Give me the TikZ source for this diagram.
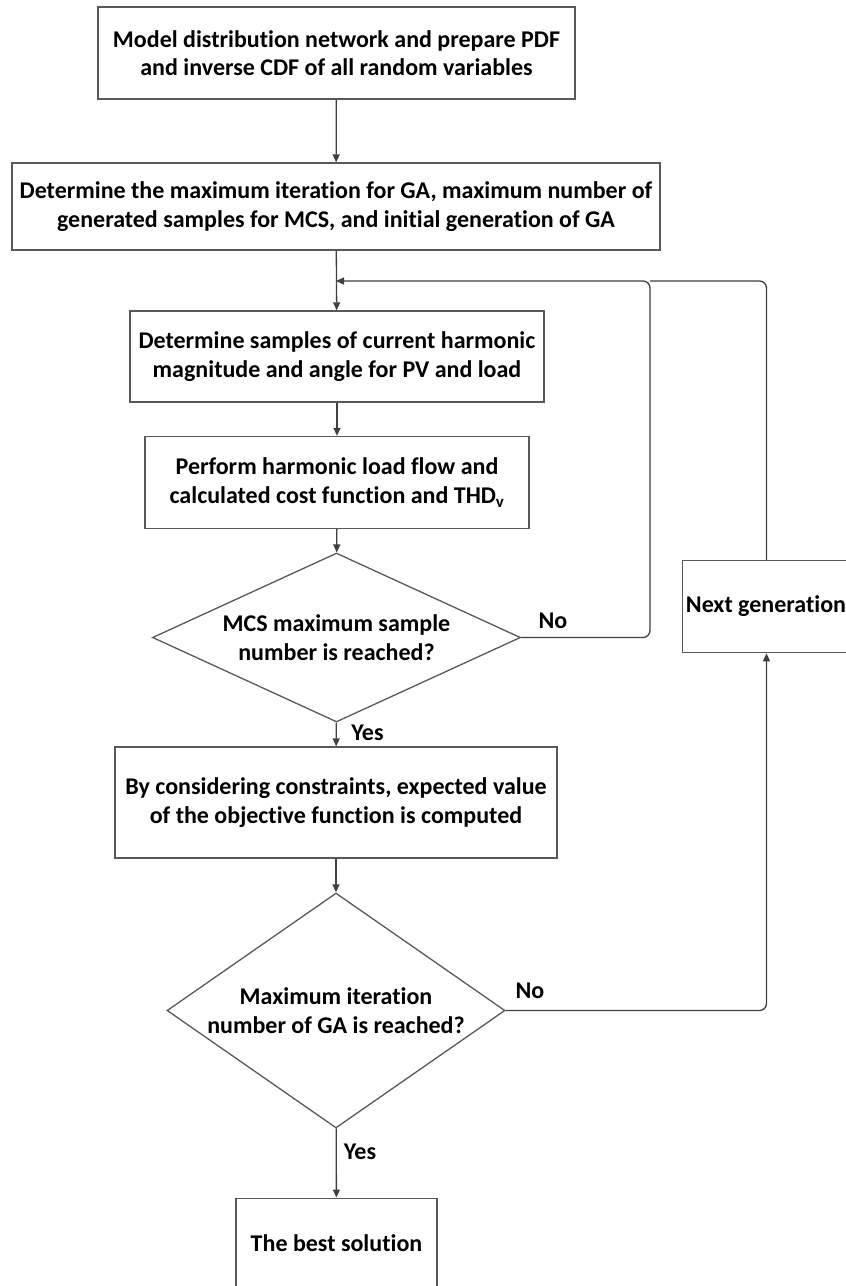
\documentclass[tikz,border=0pt]{standalone}
\usepackage{fontspec}
\setmainfont{Carlito}[Ligatures=NoCommon]
\usetikzlibrary{shapes.geometric,arrows.meta}
\begin{document}
\begin{tikzpicture}[x=1pt,y=-1pt,
  every node/.style={font=\fontsize{24}{28.5}\selectfont\bfseries, text=black},
  procbox/.style={draw=black!65, line width=1.3pt, rectangle, align=center, inner sep=0pt},
  decision/.style={draw=black!65, line width=1.3pt, diamond, inner sep=0pt},
  flow/.style={draw=black!75, line width=1.3pt, -{Triangle[length=8pt,width=7pt]}},
  plainline/.style={draw=black!75, line width=1.3pt},
  lbl/.style={inner sep=0pt, align=center}]
\useasboundingbox (0,0) rectangle (846,1286);
\fill[white] (0,0) rectangle (846,1286);

\node[procbox, minimum width=477pt, minimum height=92pt] (b1) at (336.5,53)
  {Model distribution network and prepare PDF\\and inverse CDF of all random variables};
\node[procbox, minimum width=648pt, minimum height=87pt] (b2) at (336,206.5)
  {Determine the maximum iteration for GA, maximum number of\\generated samples for MCS, and initial generation of GA};
\node[procbox, minimum width=414pt, minimum height=91pt] (b3) at (337,356.5)
  {Determine samples of current harmonic\\magnitude and angle for PV and load};
\node[procbox, minimum width=384pt, minimum height=92pt] (b4) at (337,482.5)
  {Perform harmonic load flow and\\calculated cost function and THD\textsubscript{v}};
\node[decision, minimum width=368pt, minimum height=169pt] (d1) at (336.5,637.5) {};
\node[lbl] (d1t) at (336.5,637.5) {MCS maximum sample\\number is reached?};
\node[procbox, minimum width=442pt, minimum height=111pt] (b5) at (336,802.5)
  {By considering constraints, expected value\\of the objective function is computed};
\node[decision, minimum width=338pt, minimum height=235pt] (d2) at (336,1010.5) {};
\node[lbl] (d2t) at (336,1010.5) {Maximum iteration\\number of GA is reached?};
\node[procbox, minimum width=201pt, minimum height=96pt, anchor=north] (b6) at (336.5,1197.5) {};
\node[lbl] (b6t) at (336.5,1243) {The best solution};
\node[procbox, minimum width=172pt, minimum height=92pt, anchor=north west] (ng) at (682,560) {};
\node[lbl] (ngt) at (766,606) {Next generation};

\coordinate (merge) at (336,281);
\coordinate (loopR) at (650,281);
\coordinate (ngTop) at (766.5,281);

\draw[flow] (b1) -- (b2);
\draw[flow] (b2) -- (b3);
\draw[flow] (b3) -- (b4);
\draw[flow] (b4) -- (d1);
\draw[flow] (d1) -- (b5);
\draw[flow] (b5) -- (d2);
\draw[flow] (d2) -- (b6);

\draw[flow, rounded corners=7pt] (d1.east) -- (loopR |- d1.east) -- (loopR) -- (merge);
\draw[plainline, rounded corners=7pt] (ng.north -| ngTop) -- (ngTop) -- (loopR);
\draw[flow, rounded corners=7pt] (d2.east) -- (ngTop |- d2.east) -- (ngTop |- ng.south);

\node[lbl] (no1) at (553,621) {No};
\node[lbl] (no2) at (530,991) {No};
\node[lbl] (yes1) at (367.5,733) {Yes};
\node[lbl] (yes2) at (360,1152) {Yes};
\end{tikzpicture}
\end{document}
